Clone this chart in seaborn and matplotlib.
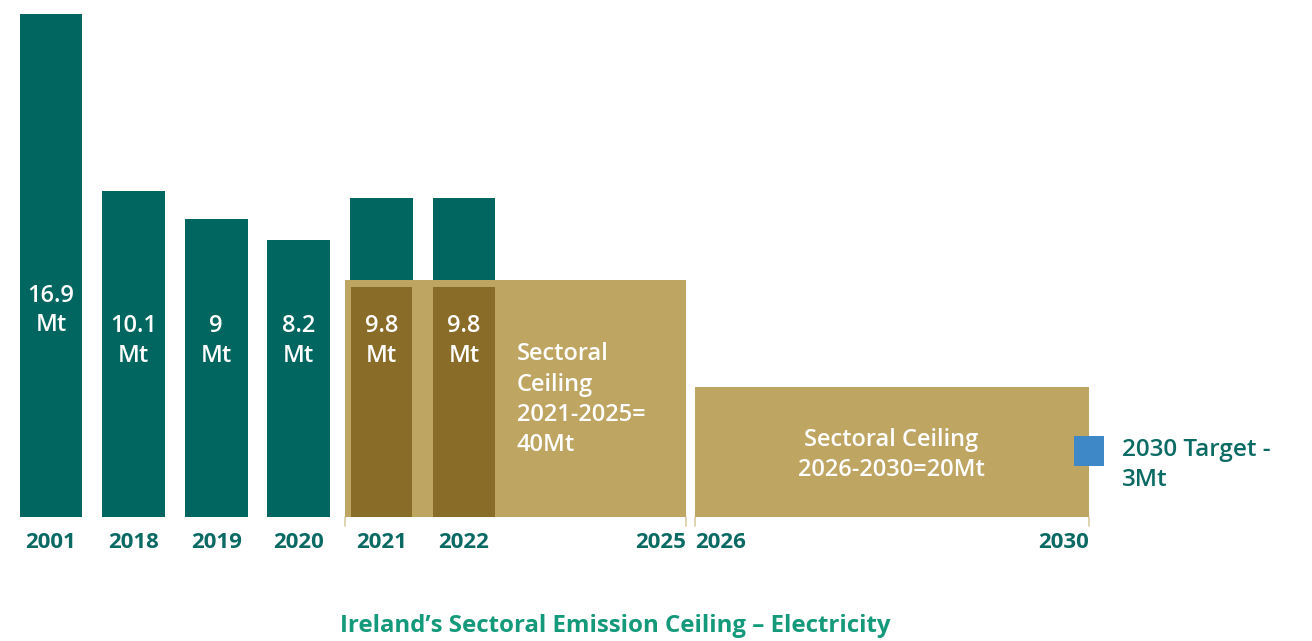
import matplotlib
matplotlib.use("Agg")
import matplotlib.pyplot as plt
import seaborn as sns
import pandas as pd

# ---- data ----
years = ["2001", "2018", "2019", "2020", "2021", "2022"]
emissions_mt = [16.9, 10.1, 9, 8.2, 9.8, 9.8]
value_labels = ["16.9\nMt", "10.1\nMt", "9\nMt", "8.2\nMt", "9.8\nMt", "9.8\nMt"]
ceiling_labels = ["Sectoral\nCeiling\n2021-2025=\n40Mt", "Sectoral Ceiling\n2026-2030=20Mt"]
ceiling_levels = [6.65, 2.55]          # drawn level of the ceiling boxes (Mt scale of the graphic)
inside_ceiling_level = 6.4             # drawn level of 2021/2022 emissions inside ceiling box
ceiling_period_ticks = ["2025", "2026", "2030"]
target_label = "2030 Target -\n3Mt"
target_level = 0.1
title = "Ireland\u2019s Sectoral Emission Ceiling \u2013 Electricity"

BASE = 2.45  # the graphic's bars start below the zero line

TEAL = "#00665F"
GOLD = "#BEA562"
DARK_GOLD = "#8A6C29"
TEXT_TEAL = "#0B6A63"
TITLE_GREEN = "#14997A"
BLUE = "#3F88C7"

sns.set_theme(style="white")
plt.rcParams["font.family"] = ["Open Sans", "DejaVu Sans"]

fig = plt.figure(figsize=(13.12, 6.41), dpi=100)
ax = fig.add_axes([0, 0, 1, 1])

df = pd.DataFrame({"year": years, "display": [v + BASE for v in emissions_mt]})
sns.barplot(data=df, x="year", y="display", color=TEAL, width=0.76,
            saturation=1, ax=ax, order=years, linewidth=0, edgecolor="none")

# ceiling boxes
box1 = (3.56, 7.69)
box2 = (7.80, 12.57)
for (x0, x1), lvl in zip([box1, box2], ceiling_levels):
    ax.bar((x0 + x1) / 2, lvl + BASE, width=x1 - x0, color=GOLD, zorder=3,
           linewidth=0)

n_before = len(ax.patches)
# 2021/2022 emissions inside the box
inside = pd.DataFrame({"year": years, "display": [inside_ceiling_level + BASE if y in ("2021", "2022") else 0 for y in years]})
sns.barplot(data=inside, x="year", y="display", color=DARK_GOLD, width=0.74,
            saturation=1, ax=ax, order=years, linewidth=0, edgecolor="none")
for p in ax.patches[n_before:]:
    p.set_zorder(4)

# value labels
top = max(emissions_mt)
for i, (v, lab) in enumerate(zip(emissions_mt, value_labels)):
    ly = 7.95 if v == top else 6.77
    ax.text(i, ly, lab, ha="center", va="center", color="white",
            fontsize=17, fontweight="semibold", linespacing=1.3, zorder=6)

# ceiling texts
ax.text(5.64, 4.5, ceiling_labels[0], ha="left", va="center", color="white",
        fontsize=17, fontweight="semibold", linespacing=1.35, zorder=6)
ax.text(10.17, 2.38, ceiling_labels[1], ha="center", va="center", color="white",
        fontsize=17, fontweight="semibold", linespacing=1.3, zorder=6)

# target
ax.scatter([12.57], [target_level + BASE], marker="s", s=470, color=BLUE,
           zorder=7, linewidths=0)
ax.text(12.97, 2.0, target_label, ha="left", va="center", color=TEXT_TEAL,
        fontsize=17.5, fontweight="semibold", linespacing=1.3, zorder=6)

# x labels
ax.set_xticks([])
ax.set_xlabel("")
ax.set_ylabel("")
lab_y = -1.0
for i, y in enumerate(years):
    ax.text(i, lab_y, y, ha="center", va="center", color=TEXT_TEAL,
            fontsize=16, fontweight="bold")
ax.text(box1[1], lab_y, ceiling_period_ticks[0], ha="right", va="center",
        color=TEXT_TEAL, fontsize=16, fontweight="bold")
ax.text(box2[0], lab_y, ceiling_period_ticks[1], ha="left", va="center",
        color=TEXT_TEAL, fontsize=16, fontweight="bold")
ax.text(box2[1], lab_y, ceiling_period_ticks[2], ha="right", va="center",
        color=TEXT_TEAL, fontsize=16, fontweight="bold")
for xe in [box1[0], box1[1], box2[0], box2[1]]:
    ax.plot([xe, xe], [0, -0.35], color="#D8CBA0", lw=1.2, zorder=2)

ax.text(6.83, -4.19, title, ha="center", va="center", color=TITLE_GREEN,
        fontsize=17.3, fontweight="bold")

ax.set_xlim(-0.617, 15.266)
ax.set_ylim(-4.77, 19.88)
ax.axis("off")

fig.savefig("out.png", dpi=100, facecolor="white")
